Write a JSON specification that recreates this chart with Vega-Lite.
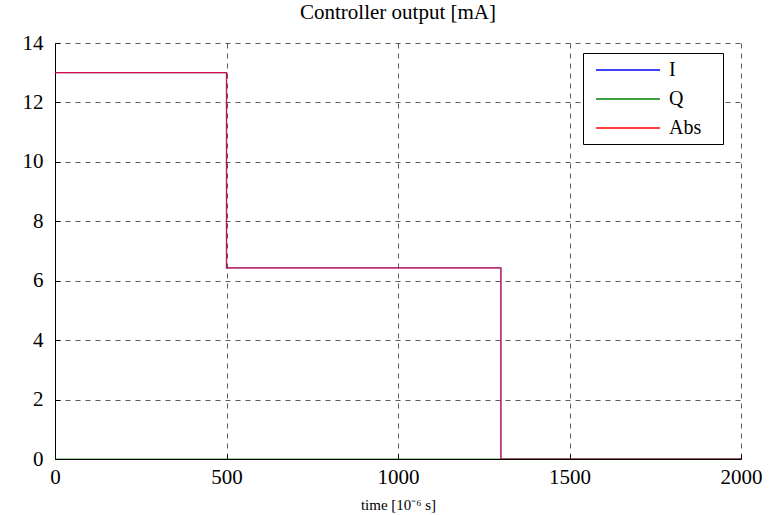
{
  "$schema": "https://vega.github.io/schema/vega-lite/v6.json",
  "width": 686,
  "height": 416,
  "autosize": {"type": "none"},
  "padding": {"left": 55, "top": 43, "right": 39, "bottom": 56},
  "background": "white",
  "config": {
    "font": "Liberation Serif",
    "view": {"stroke": null}
  },
  "title": {
    "text": "Controller output [mA]",
    "font": "Liberation Serif",
    "fontSize": 21,
    "fontWeight": "normal",
    "color": "black",
    "offset": 9
  },
  "data": {
    "values": [
      {"t": 0, "v": 13, "series": "I", "k": 0},
      {"t": 500, "v": 13, "series": "I", "k": 1},
      {"t": 500, "v": 6.43, "series": "I", "k": 2},
      {"t": 1300, "v": 6.43, "series": "I", "k": 3},
      {"t": 1300, "v": 0, "series": "I", "k": 4},
      {"t": 2000, "v": 0, "series": "I", "k": 5},
      {"t": 0, "v": 0, "series": "Q", "k": 0},
      {"t": 2000, "v": 0, "series": "Q", "k": 1},
      {"t": 0, "v": 13, "series": "Abs", "k": 0},
      {"t": 500, "v": 13, "series": "Abs", "k": 1},
      {"t": 500, "v": 6.43, "series": "Abs", "k": 2},
      {"t": 1300, "v": 6.43, "series": "Abs", "k": 3},
      {"t": 1300, "v": 0, "series": "Abs", "k": 4},
      {"t": 2000, "v": 0, "series": "Abs", "k": 5}
    ]
  },
  "mark": {"type": "line", "strokeWidth": 1.2, "opacity": 0.75, "clip": true},
  "encoding": {
    "x": {
      "field": "t",
      "type": "quantitative",
      "scale": {"domain": [0, 2000], "nice": false},
      "axis": {
        "values": [0, 500, 1000, 1500, 2000],
        "format": "d",
        "title": "time [10⁻⁶ s]",
        "titleFont": "Liberation Serif",
        "titleFontSize": 15,
        "titleFontWeight": "normal",
        "titleColor": "black",
        "titlePadding": 10,
        "labelFont": "Liberation Serif",
        "labelFontSize": 21,
        "labelColor": "black",
        "labelPadding": 12,
        "labelFlush": false,
        "domainColor": "black",
        "tickColor": "black",
        "tickSize": -5,
        "grid": true,
        "gridColor": "#333333",
        "gridDash": [5, 5],
        "gridOpacity": 0.8
      }
    },
    "y": {
      "field": "v",
      "type": "quantitative",
      "scale": {"domain": [0, 14], "nice": false},
      "axis": {
        "values": [0, 2, 4, 6, 8, 10, 12, 14],
        "title": null,
        "labelFont": "Liberation Serif",
        "labelFontSize": 21,
        "labelColor": "black",
        "labelPadding": 17,
        "labelFlush": false,
        "domainColor": "black",
        "tickColor": "black",
        "tickSize": -5,
        "grid": true,
        "gridColor": "#333333",
        "gridDash": [5, 5],
        "gridOpacity": 0.8
      }
    },
    "stroke": {
      "field": "series",
      "type": "nominal",
      "scale": {"domain": ["I", "Q", "Abs"], "range": ["#0000ff", "#008000", "#ff0000"]},
      "legend": {
        "title": null,
        "orient": "none",
        "legendX": 528,
        "legendY": 10,
        "symbolType": "M-0.4,0H6M11.4,0",
        "symbolSize": 400,
        "symbolStrokeWidth": 1.5,
        "symbolOpacity": 1,
        "labelFont": "Liberation Serif",
        "labelFontSize": 20,
        "labelColor": "black",
        "labelOffset": 58,
        "rowPadding": 8,
        "padding": 6,
        "strokeColor": "black",
        "fillColor": "white"
      }
    },
    "order": {"field": "k", "type": "quantitative"}
  }
}
